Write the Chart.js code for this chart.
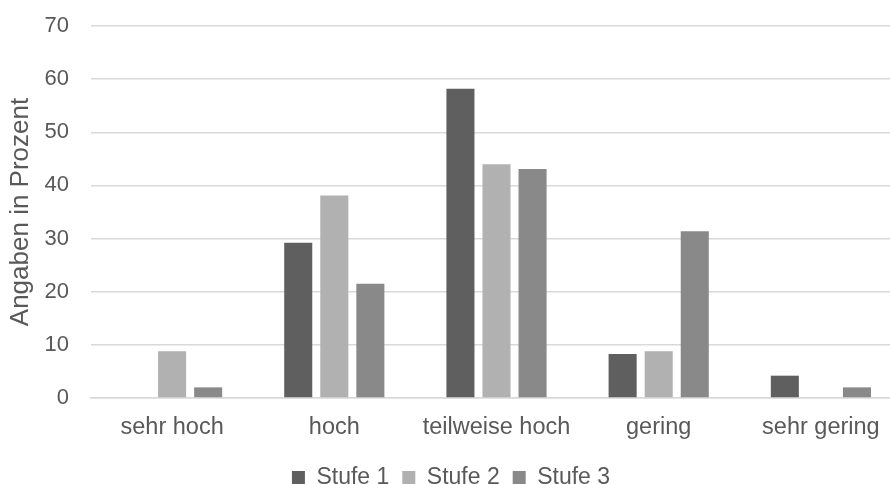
<!DOCTYPE html>
<html>
<head>
<meta charset="utf-8">
<script src="https://cdn.jsdelivr.net/npm/chart.js@4/dist/chart.umd.min.js"></script>
<style>
  html, body { margin: 0; padding: 0; background: #fff; overflow: hidden; }
  #wrap { position: absolute; left: 0; top: 0; width: 902px; height: 499px; }
</style>
</head>
<body>
<div id="wrap"><canvas id="myChart"></canvas></div>
<script>
  "use strict";

  var categories = ["sehr hoch", "hoch", "teilweise hoch", "gering", "sehr gering"];
  var stufe1 = [0, 29.2, 58.2, 8.3, 4.2];
  var stufe2 = [8.8, 38.1, 44.0, 8.8, 0];
  var stufe3 = [2.0, 21.5, 43.1, 31.4, 2.0];
  var yTicks = [0, 10, 20, 30, 40, 50, 60, 70];

  var textColor = "#595959";
  var fontFamily = "'Liberation Sans', Arial, sans-serif";

  var ctx = document.getElementById("myChart").getContext("2d");
  var chart = new Chart(ctx, {
    type: "bar",
    data: {
      labels: categories,
      datasets: [
        { label: "Stufe 1", data: stufe1, backgroundColor: "#5f5f5f" },
        { label: "Stufe 2", data: stufe2, backgroundColor: "#b1b1b1" },
        { label: "Stufe 3", data: stufe3, backgroundColor: "#898989" },
      ],
    },
    options: {
      responsive: true,
      maintainAspectRatio: false,
      animation: false,
      categoryPercentage: 0.667,
      barPercentage: 0.778,
      layout: {
        padding: { left: 0, top: 26, right: 0, bottom: 0 },
      },
      scales: {
        x: {
          grid: { display: false },
          border: { color: "#d9d9d9", width: 1.5 },
          ticks: {
            color: textColor,
            font: { family: fontFamily, size: 23.5 },
            padding: 7,
            maxRotation: 0,
          },
          afterFit: function (axis) {
            axis.height = 55;
          },
        },
        y: {
          min: 0,
          max: 70,
          afterBuildTicks: function (axis) {
            axis.ticks = yTicks.map(function (v) { return { value: v }; });
          },
          afterFit: function (axis) {
            axis.width = 91;
          },
          // invisible tick marks keep the labels away from the plot
          grid: {
            color: "#d9d9d9",
            lineWidth: 1.5,
            drawTicks: true,
            tickLength: 18,
            tickColor: "rgba(0,0,0,0)",
          },
          border: { display: false },
          ticks: {
            color: textColor,
            font: { family: fontFamily, size: 22 },
            padding: 4,
          },
          title: {
            display: true,
            text: "Angaben in Prozent",
            color: textColor,
            font: { family: fontFamily, size: 26 },
            padding: { top: 5, bottom: 0 },
          },
        },
      },
      plugins: {
        legend: {
          position: "bottom",
          labels: {
            color: textColor,
            font: { family: fontFamily, size: 23 },
            boxWidth: 13,
            boxHeight: 13,
            padding: 13,
          },
        },
        tooltip: { enabled: false },
      },
    },
  });
</script>
</body>
</html>
